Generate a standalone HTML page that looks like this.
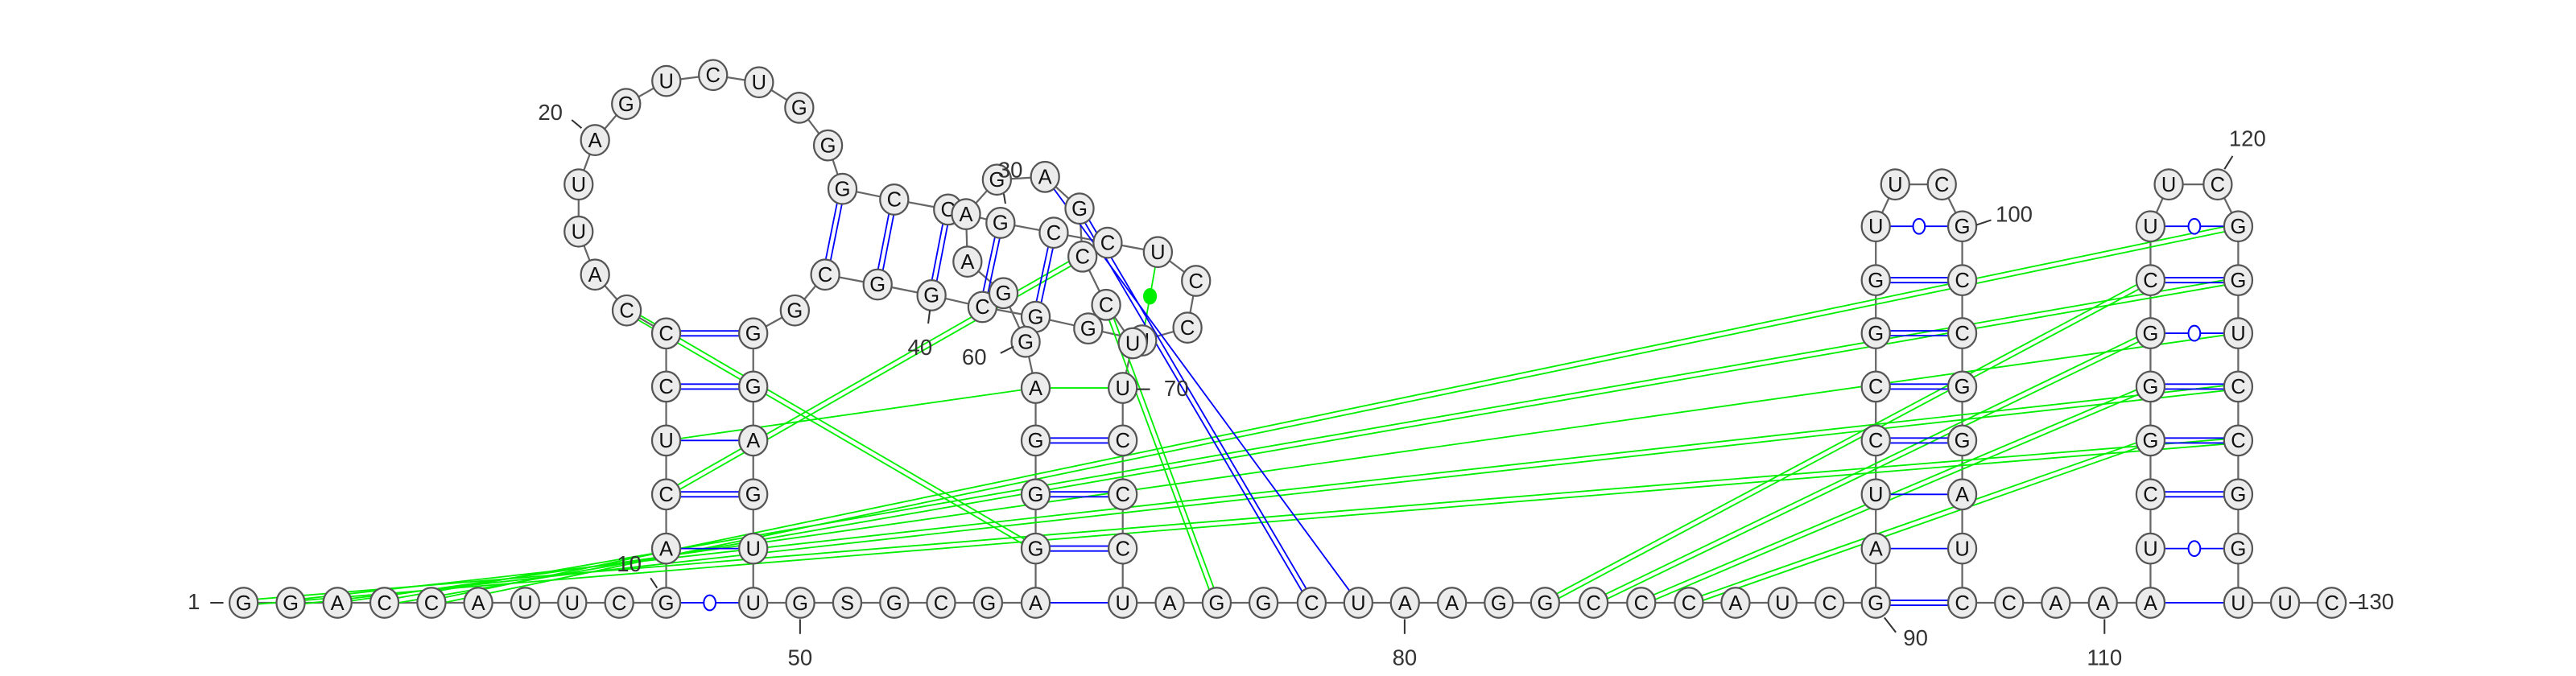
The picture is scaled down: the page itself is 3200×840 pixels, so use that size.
<!DOCTYPE html>
<html><head><meta charset="utf-8"><style>
html,body{margin:0;padding:0;background:#fff;width:3200px;height:840px;overflow:hidden}
svg{display:block}
text{font-family:"Liberation Sans",sans-serif}
</style></head><body>
<svg id="rna" width="3200" height="840" viewBox="0 0 1568 411.6" xmlns="http://www.w3.org/2000/svg">
<g id="backbone"></g>
<g id="pairs"></g>
<g id="nodes"></g>
<g id="labels"></g>
</svg>
<script>
const seqParts = ["GGACCAUUCG","ACUCC","CAUUAGUCUGG","GCCGCC","UCCU","GGCGGC","GGGAGUU","GSGCGA","GGGA","GGAAGAGCCUU","CCCU","AGGCUAAGGCCCAUCG","AUCCGGU","UC","GCCGGAUC","CAAA","UCGGGCU","UC","GGUCCGGUUC"];
const seq = seqParts.join("");
const nodeX = [148.3,176.9,205.4,234,262.6,291.1,319.7,348.3,376.9,405.5,
405.5,405.5,405.5,405.5,405.5,381.5,362.2,352.2,352.2,362.2,381.1,405.6,434,462,486.5,504,512.8,544.3,577.1,609,
641.4,674.2,704.8,728,722.8,695.2,662.4,630.4,598,567,534.2,502.3,483.8,458.5,458.5,458.5,458.5,458.5,458.5,
487.1,515.7,544.3,572.8,601.4,630.4,630.4,630.4,630.4,630.4,624.3,610.8,588.9,588,606.8,636.1,657.1,658.9,673.3,689.5,683.4,
683.4,683.4,683.4,683.4,712,740.6,769.1,798.4,826.8,855.2,883.8,912.3,940.5,970,999,1028,1056.4,1085,1113.6,1141.8,
1141.8,1141.8,1141.8,1141.8,1141.8,1141.8,1141.8,1153.6,1182,1194.4,1194.4,1194.4,1194.4,1194.4,1194.4,1194.4,1194.4,
1222.9,1251.4,1280,1309,1309,1309,1309,1309,1309,1309,1309,1320.1,1349.9,1362.4,1362.4,1362.4,1362.4,1362.4,1362.4,1362.4,1362.4,1390.9,1419.3];
const nodeY = [367,367,367,367,367,367,367,367,367,367,
334,301,268.2,235.4,203,189,167.2,141,112.3,85.3,63.3,49.3,45.7,50.1,65.6,88.5,115,121.5,127.6,135.7,
141.7,147.8,153.5,171,199.5,207.3,200,192.9,186.9,179.8,173.2,167.2,189,203,235.4,268.2,301,334,367,
367,367,367,367,367,367,334,301,268.2,236.2,208.1,178.5,159.3,130.4,109.4,107.7,127,156.2,185.6,209,236.2,
268.2,301,334,367,367,367,367,367,367,367,367,367,367,367,367,367,367,367,367,367,
334,301,268.2,235.4,202.9,170.6,137.8,112.3,112.3,137.8,170.6,202.9,235.4,268.2,301,334,367,
367,367,367,367,334,301,268.2,235.4,202.9,170.6,137.8,112.3,112.3,137.8,170.6,202.9,235.4,268.2,301,334,367,367,367];
const bluePairs = [[10,49,"w"],[11,48,"s"],[12,47,"d"],[13,46,"s"],[14,45,"d"],[15,44,"d"],
[27,42,"d"],[28,41,"d"],[29,40,"d"],[30,39,"d"],[31,38,"d"],
[55,74,"s"],[56,73,"d"],[57,72,"d"],[58,71,"d"],[65,79,"s"],[66,78,"d"],
[90,107,"d"],[91,106,"s"],[92,105,"s"],[93,104,"d"],[94,103,"d"],[95,102,"d"],[96,101,"d"],[97,100,"w"],
[111,128,"s"],[112,127,"w"],[113,126,"d"],[114,125,"d"],[115,124,"d"],[116,123,"w"],[117,122,"d"],[118,121,"w"]];
const greenPairs = [[59,70,"s"],[13,59,"s"],[16,56,"d"],[12,67,"d"],[68,76,"d"],[33,36,"dot"],
[1,125,"d"],[2,124,"d"],[3,123,"s"],[4,122,"d"],[5,121,"d"],
[83,117,"d"],[84,116,"d"],[85,115,"d"],[86,114,"d"]];
const labelNums = [1,10,20,30,40,50,60,70,80,90,100,110,120,130];
const labelPos = {1:[118,371,136,367,128,367],10:[383,348,400,358,396,352],20:[335,73,354,78,348,73],30:[615,108,611,118,612,124],
40:[560,216,566,189,565,197],50:[487,405,487,377,487,386],60:[593,222,617,211,609,215],70:[716,241,692,237,700,237],
80:[855,405,855,377,855,386],90:[1166,393,1147,376,1154,385],100:[1226,135,1203,137,1212,134],110:[1281,405,1281,377,1281,386],
120:[1368,89,1354,103,1359,95],130:[1446,371,1430,367,1438,367]};
const NS="http://www.w3.org/2000/svg";
function mk(tag,attrs,parent){const e=document.createElementNS(NS,tag);for(const k in attrs)e.setAttribute(k,attrs[k]);parent.appendChild(e);return e;}
const bb=document.getElementById('backbone'),pg=document.getElementById('pairs'),ng=document.getElementById('nodes'),lg=document.getElementById('labels');
const X=i=>nodeX[i-1],Y=i=>nodeY[i-1];
for(let i=1;i<seq.length;i++){
  const l=mk('line',{x1:X(i),y1:Y(i),x2:X(i+1),y2:Y(i+1),stroke:'#666','stroke-width':1.1},bb);
  
  
}
function drawPair(a,b,type,color){
  const x1=X(a),y1=Y(a),x2=X(b),y2=Y(b);
  const dx=x2-x1,dy=y2-y1,L=Math.hypot(dx,dy),nx=-dy/L*1.5,ny=dx/L*1.5;
  if(type==="d"){
    for(const s of [-1,1]){
      const l=mk('line',{x1:x1+nx*s,y1:y1+ny*s,x2:x2+nx*s,y2:y2+ny*s,stroke:color,'stroke-width':0.9},pg);
      
      
    }
  } else {
    const l=mk('line',{x1:x1,y1:y1,x2:x2,y2:y2,stroke:color,'stroke-width':0.9},pg);
    
    
    if(type==="w"){
      const c=mk('ellipse',{cx:(x1+x2)/2,cy:(y1+y2)/2,rx:3.6,ry:4.6,fill:'#fff',stroke:color,'stroke-width':1},pg);
      
      
    }
    if(type==="dot"){
      const c=mk('ellipse',{cx:(x1+x2)/2,cy:(y1+y2)/2,rx:4.2,ry:5,fill:color},pg);
      
      
    }
  }
}
greenPairs.forEach(p=>drawPair(p[0],p[1],p[2],'#00ee00'));
bluePairs.forEach(p=>drawPair(p[0],p[1],p[2],'#0000ff'));
for(let i=1;i<=seq.length;i++){
  const g=mk('g',{},ng);
  
  
  mk('ellipse',{cx:X(i),cy:Y(i),rx:8.6,ry:9.2,fill:'#ececec',stroke:'#555','stroke-width':1.1},g);
  const t=mk('text',{x:X(i),y:Y(i)+4.3,'text-anchor':'middle','font-size':12.5,fill:'#111'},g);
  t.textContent=seq[i-1];
}
labelNums.forEach(n=>{
  const p=labelPos[n];
  const t=mk('text',{x:p[0],y:p[1],'text-anchor':'middle','font-size':13.5,fill:'#333'},lg);
  
  
  t.textContent=String(n);
  const l=mk('line',{x1:p[2],y1:p[3],x2:p[4],y2:p[5],stroke:'#333','stroke-width':1},lg);
  
  
});
</script>
</body></html>
